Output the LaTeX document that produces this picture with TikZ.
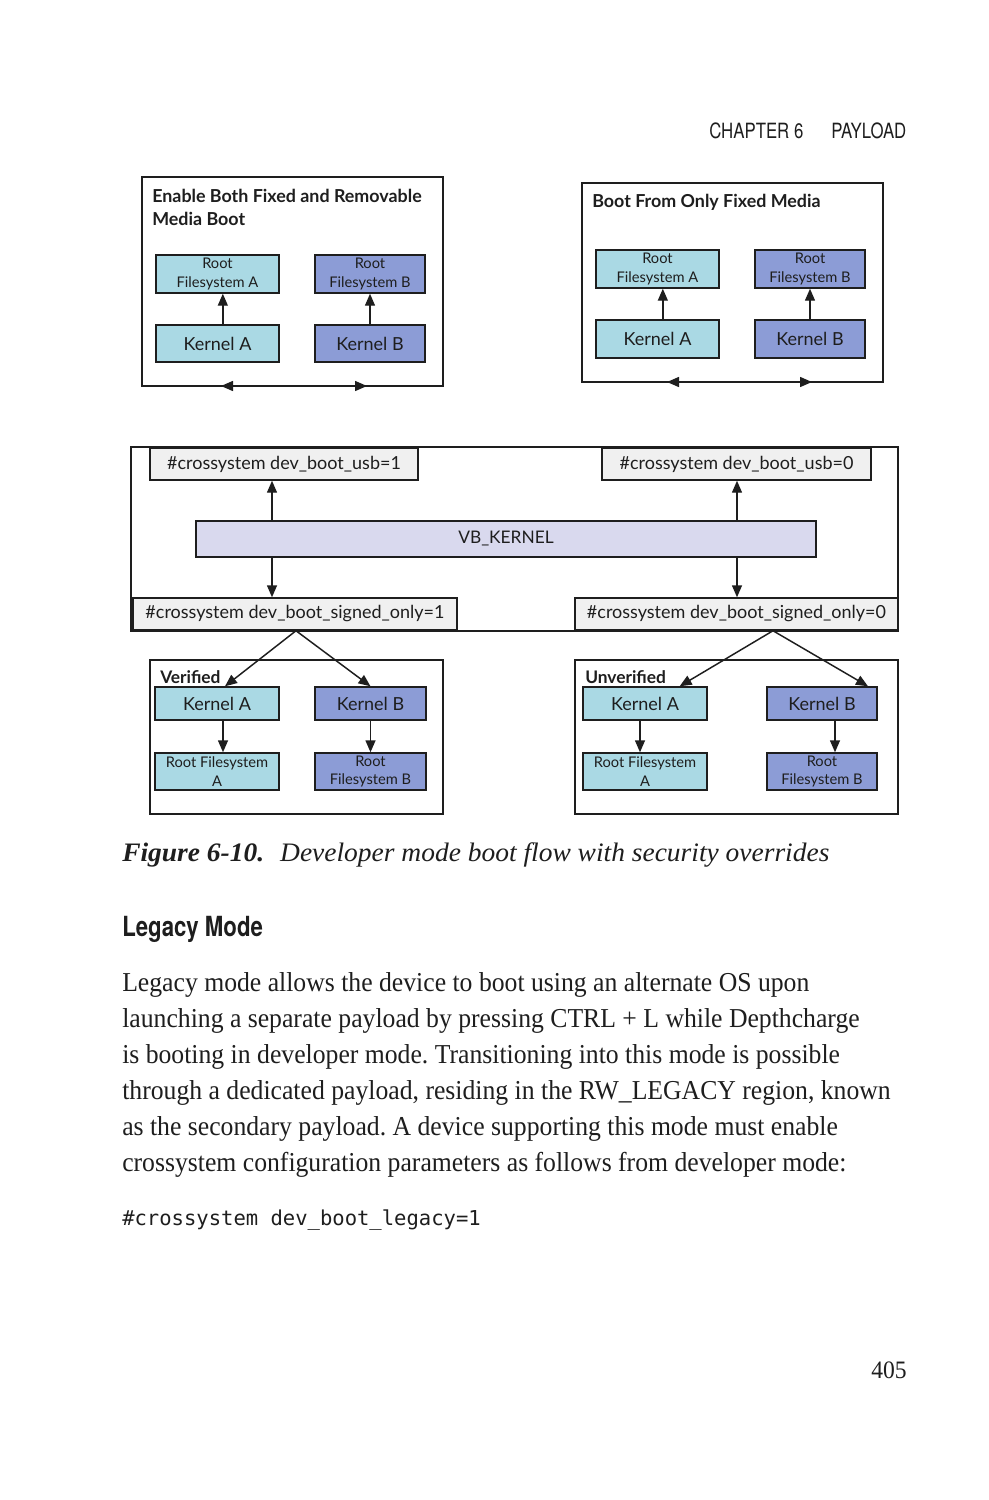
\documentclass[tikz,border=0pt]{standalone}
\usepackage{fontspec}
\setmainfont{Liberation Serif}
\newfontfamily\diag{Lato}
\newfontfamily\bodyf[FakeStretch=0.94]{Liberation Serif}
\newfontfamily\capf[FakeStretch=1.03]{Liberation Serif}
\newfontfamily\headf[FakeStretch=0.8]{TeX Gyre Heros}
\newfontfamily\codef{DejaVu Sans Mono}
\usetikzlibrary{arrows.meta,calc}
\frenchspacing
\definecolor{lblue}{RGB}{170,217,228}
\definecolor{pblue}{RGB}{140,156,214}
\definecolor{gbox}{RGB}{240,240,240}
\definecolor{vbk}{RGB}{217,217,238}
\definecolor{ink}{RGB}{30,30,30}
\tikzset{
  sz/.style 2 args={minimum width=#1*0.75pt, minimum height=#2*0.75pt},
  box/.style={draw=ink, line width=1.1pt, inner sep=0pt, align=center, text=ink,
    font=\diag\fontsize{13.5}{16}\selectfont},
  rfs/.style={font=\diag\fontsize{11}{13.8}\selectfont},
  kabox/.style={box, fill=lblue},
  kbbox/.style={box, fill=pblue},
  gray box/.style={box, fill=gbox},
  frame/.style={draw=ink, line width=1.1pt, inner sep=0pt},
  ttl/.style={text=ink, inner sep=0pt, align=left, font=\diag\bfseries\fontsize{13.4}{17.25}\selectfont},
  arr/.style={draw=ink, line width=1.1pt, -{Triangle[length=9pt,width=7.5pt]}},
  arrtwo/.style={draw=ink, line width=1.1pt, {Triangle[length=9pt,width=7.5pt]}-{Triangle[length=9pt,width=7.5pt]}},
  bodyline/.style={anchor=base west, inner sep=0pt, text=ink, font=\bodyf\fontsize{20.5}{27}\selectfont},
}
\begin{document}
\begin{tikzpicture}[x=0.75pt, y=-0.75pt]
\useasboundingbox[fill=white] (0,0) rectangle (989,1500);

% header
\node[anchor=base west, inner sep=0pt, text=ink, font=\headf\fontsize{15.75}{18}\selectfont] (hd1) at (709,138) {CHAPTER 6};
\node[anchor=base west, inner sep=0pt, text=ink, font=\headf\fontsize{15.75}{18}\selectfont] (hd2) at (831,138) {PAYLOAD};

% ---------- top-left panel
\node[frame, sz={301}{209}] (f1) at (292.5,281.5) {};
\node[ttl, anchor=north west] (t1) at (152,189) {Enable Both Fixed and Removable\\Media Boot};
\node[kabox, rfs, sz={123}{38}] (ra1) at (217.5,274) {Root\\Filesystem A};
\node[kabox, sz={123}{37}] (ka1) at (217.5,343.5) {Kernel A};
\node[kbbox, rfs, sz={110}{38}] (rb1) at (370,274) {Root\\Filesystem B};
\node[kbbox, sz={110}{37}] (kb1) at (370,343.5) {Kernel B};
\draw[arr] ([xshift=4pt]ka1.north) -- ([xshift=4pt]ra1.south);
\draw[arr] (kb1.north) -- (rb1.south);
\coordinate (f1l) at (221,386);
\coordinate (f1r) at (367,386);
\draw[arrtwo] (f1l) -- (f1r);

% ---------- top-right panel
\node[frame, sz={301}{199}] (f2) at (732.5,282.5) {};
\node[ttl, anchor=north west] (t2) at (592,194) {Boot From Only Fixed Media};
\node[kabox, rfs, sz={123}{38}] (ra2) at (657.5,269) {Root\\Filesystem A};
\node[kabox, sz={123}{38}] (ka2) at (657.5,339) {Kernel A};
\node[kbbox, rfs, sz={110}{38}] (rb2) at (810,269) {Root\\Filesystem B};
\node[kbbox, sz={110}{38}] (kb2) at (810,339) {Kernel B};
\draw[arr] ([xshift=4pt]ka2.north) -- ([xshift=4pt]ra2.south);
\draw[arr] (kb2.north) -- (rb2.south);
\coordinate (f2l) at (667,382);
\coordinate (f2r) at (812,382);
\draw[arrtwo] (f2l) -- (f2r);

% ---------- middle panel
\node[frame, sz={767}{184}] (f3) at (514.5,539) {};
\node[gray box, sz={268}{32}] (usb1) at (284,464) {\#crossystem dev\_boot\_usb=1};
\node[gray box, sz={269}{32}] (usb0) at (736.5,464) {\#crossystem dev\_boot\_usb=0};
\node[box, fill=vbk, sz={620}{36}, font=\diag\fontsize{13}{16}\selectfont] (vb) at (506,539) {VB\_KERNEL};
\node[gray box, sz={324}{32}] (so1) at (295,614) {\#crossystem dev\_boot\_signed\_only=1};
\node[gray box, sz={323}{32}] (so0) at (736.5,614) {\#crossystem dev\_boot\_signed\_only=0};
\coordinate (xl) at (272,0);
\coordinate (xr) at (737,0);
\draw[arr] (vb.north -| xl) -- (usb1.south -| xl);
\draw[arr] (vb.south -| xl) -- (so1.north -| xl);
\draw[arr] (vb.north -| xr) -- (usb0.south -| xr);
\draw[arr] (vb.south -| xr) -- (so0.north -| xr);

% ---------- bottom-left panel
\node[frame, sz={293}{154}] (f4) at (296.5,737) {};
\node[anchor=base west, inner sep=0pt, text=ink, font=\diag\bfseries\fontsize{13}{16}\selectfont] (ver) at (160,683) {Verified};
\node[kabox, sz={124}{33}] (ka3) at (217,703.5) {Kernel A};
\node[kbbox, sz={111}{33}] (kb3) at (370.5,703.5) {Kernel B};
\node[kabox, rfs, sz={124}{37}] (ra3) at (217,771.5) {Root Filesystem\\A};
\node[kbbox, rfs, sz={111}{37}] (rb3) at (370.5,771.5) {Root\\Filesystem B};
\draw[arr] ([xshift=4.5pt]ka3.south) -- ([xshift=4.5pt]ra3.north);
\draw[arr] (kb3.south) -- (rb3.north);
\draw[arr] ($(so1.south)+(1,0)$) -- ([xshift=6pt]ka3.north);
\draw[arr] ($(so1.south)+(1,0)$) -- (kb3.north);

% ---------- bottom-right panel
\node[frame, sz={323}{154}] (f5) at (736.5,737) {};
\node[anchor=base west, inner sep=0pt, text=ink, font=\diag\bfseries\fontsize{13}{16}\selectfont] (unv) at (585,683) {Unverified};
\node[kabox, sz={124}{33}] (ka4) at (645,703.5) {Kernel A};
\node[kbbox, sz={110}{33}] (kb4) at (822,703.5) {Kernel B};
\node[kabox, rfs, sz={124}{37}] (ra4) at (645,771.5) {Root Filesystem\\A};
\node[kbbox, rfs, sz={110}{37}] (rb4) at (822,771.5) {Root\\Filesystem B};
\draw[arr] ([xshift=-3.75pt]ka4.south) -- ([xshift=-3.75pt]ra4.north);
\draw[arr] ([xshift=9.75pt]kb4.south) -- ([xshift=9.75pt]rb4.north);
\draw[arr] ($(so0.south)+(36.5,0)$) -- ([xshift=26pt]ka4.north);
\draw[arr] ($(so0.south)+(36.5,0)$) -- ([xshift=34.5pt]kb4.north);

% ---------- caption and text
\node[anchor=base west, inner sep=0pt, text=ink, font=\capf\fontsize{20}{22}\selectfont] (cap) at (122,861)
  {\textbf{\textit{Figure 6-10.}}\hspace{0.6em}\textit{Developer mode boot flow with security overrides}};
\node[anchor=base west, inner sep=0pt, text=ink, font=\headf\bfseries\fontsize{20.8}{22}\selectfont] (h2) at (122,936) {Legacy Mode};
\node[bodyline] (l1) at (122,991) {Legacy mode allows the device to boot using an alternate OS upon};
\node[bodyline] (l2) at (122,1027) {launching a separate payload by pressing CTRL + L while Depthcharge};
\node[bodyline] (l3) at (122,1063) {is booting in developer mode. Transitioning into this mode is possible};
\node[bodyline] (l4) at (122,1099) {through a dedicated payload, residing in the RW\_LEGACY region, known};
\node[bodyline] (l5) at (122,1135) {as the secondary payload. A device supporting this mode must enable};
\node[bodyline] (l6) at (122,1171) {crossystem configuration parameters as follows from developer mode:};
\node[anchor=base west, inner sep=0pt, text=ink, font=\codef\fontsize{15.4}{18}\selectfont] (code) at (122,1225) {\#crossystem dev\_boot\_legacy=1};
\node[anchor=base east, inner sep=0pt, text=ink, font=\bodyf\fontsize{18.8}{20}\selectfont] (pg) at (907,1378) {405};
\end{tikzpicture}
\end{document}
